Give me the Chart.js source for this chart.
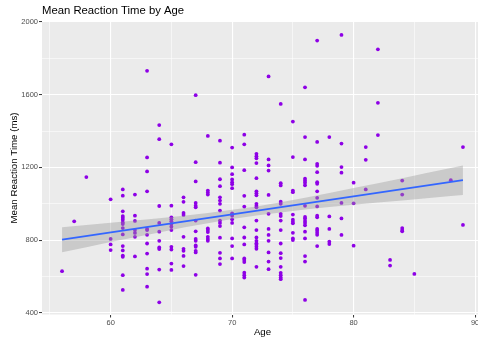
<!DOCTYPE html>
<html>
<head>
<meta charset="utf-8">
<script src="https://cdn.jsdelivr.net/npm/chart.js"></script>
<style>
  html, body { margin: 0; padding: 0; background: #ffffff; overflow: hidden; }
  #wrap { width: 478px; height: 341px; overflow: hidden; }
</style>
</head>
<body>
<div id="wrap"><canvas id="c" width="483" height="341"></canvas></div>
<script>
// ---- data ----
const chartTitle = "Mean Reaction Time by Age";
const xTitle = "Age";
const yTitle = "Mean Reaction Time (ms)";

// one entry per observation (age, mean reaction time in ms)
const ages = [
  56, 57, 58,
  60, 60, 60, 60,
  61, 61, 61, 61, 61, 61, 61, 61, 61, 61, 61, 61, 61, 61, 61, 61,
  62, 62, 62, 62, 62, 62, 62,
  63, 63, 63, 63, 63, 63, 63, 63, 63, 63, 63, 63,
  64, 64, 64, 64, 64, 64, 64, 64, 64, 64,
  65, 65, 65, 65, 65, 65, 65, 65, 65, 65, 65, 65,
  66, 66, 66, 66, 66, 66, 66, 66, 66,
  67, 67, 67, 67, 67, 67, 67, 67, 67, 67, 67, 67, 67, 67, 67,
  68, 68, 68, 68, 68, 68, 68, 68, 68, 68,
  69, 69, 69, 69, 69, 69, 69, 69, 69, 69, 69, 69, 69, 69, 69,
  70, 70, 70, 70, 70, 70, 70, 70, 70, 70, 70, 70, 70, 70,
  71, 71, 71, 71, 71, 71, 71, 71, 71, 71, 71, 71, 71, 71,
  72, 72, 72, 72, 72, 72, 72, 72, 72, 72, 72, 72, 72, 72, 72, 72, 72, 72, 72, 72,
  73, 73, 73, 73, 73, 73, 73, 73, 73, 73, 73, 73,
  74, 74, 74, 74, 74, 74, 74, 74, 74, 74, 74, 74, 74, 74, 74, 74, 74,
  75, 75, 75, 75, 75, 75, 75, 75, 75, 75, 75,
  76, 76, 76, 76, 76, 76, 76, 76, 76, 76, 76, 76, 76, 76, 76, 76, 76, 76,
  77, 77, 77, 77, 77, 77, 77, 77, 77, 77, 77, 77, 77, 77, 77, 77, 77,
  78, 78, 78, 78, 78,
  79, 79, 79, 79, 79, 79, 79,
  80, 80, 80,
  81, 81, 81,
  82, 82, 82,
  83, 83,
  84, 84, 84, 84, 84,
  85,
  88,
  89, 89
];
const reactionTimes = [
  630, 904, 1147,
  1025, 807, 777, 746,
  1079, 1045, 959, 933, 924, 913, 898, 889, 867, 832, 768, 744, 716, 709, 608, 527,
  1051, 935, 906, 856, 840, 819, 711,
  1731, 1255, 1178, 1069, 862, 856, 830, 782, 727, 644, 614, 545,
  1433, 1355, 988, 895, 847, 797, 760, 752, 639, 459,
  1327, 990, 926, 915, 904, 889, 874, 856, 764, 749, 672, 637,
  1036, 1011, 950, 939, 819, 753, 742, 714, 658,
  1597, 1229, 1123, 1005, 990, 981, 908, 849, 807, 797, 771, 764, 742, 733, 610,
  1373, 1073, 1062, 1051, 865, 856, 845, 819, 807, 797,
  1347, 1226, 1135, 1097, 1036, 1018, 1000, 963, 908, 895, 878, 814, 731, 700, 669,
  1309, 1200, 1163, 1134, 1119, 1108, 1086, 948, 935, 915, 895, 810, 768, 700,
  1380, 1327, 1185, 1044, 985, 871, 815, 777, 700, 691, 680, 622, 608, 595,
  1275, 1262, 1250, 1224, 1141, 1069, 1058, 1047, 1000, 989, 981, 908, 856, 815, 797, 784, 775, 764, 753, 654,
  1700, 1244, 1211, 1183, 1049, 945, 862, 829, 797, 733, 683, 641,
  1549, 1113, 1101, 1012, 1000, 945, 933, 908, 856, 782, 729, 702, 654, 621, 608, 595, 586,
  1452, 1257, 1073, 1064, 941, 913, 902, 893, 841, 810, 801,
  1640, 1367, 1244, 1138, 1127, 1116, 1102, 989, 928, 919, 906, 895, 882, 847, 810, 713, 683, 472,
  1897, 1340, 1220, 1209, 1174, 1119, 1110, 1069, 1033, 986, 935, 926, 862, 852, 841, 830, 768,
  1367, 931, 862, 792, 779,
  1928, 1331, 1202, 1171, 1005, 920, 829,
  1116, 1003, 770,
  1312, 1242, 1079,
  1849, 1555, 1378,
  692, 661,
  1128, 1051, 867, 856, 849,
  615,
  1130,
  1312, 884
];

// fitted regression line (end points)
const fitAges = [56, 89];
const fitValues = [803, 1130];

// confidence band around the fit
const bandAges = [56, 58, 60, 62, 64, 66, 68, 70, 72, 74, 76, 78, 80, 82, 84, 86, 88, 89];
const bandLow  = [734, 762, 790, 816, 843, 870, 894, 917, 936, 953, 969, 982, 995, 1007, 1019, 1031, 1043, 1049];
const bandHigh = [872, 884, 896, 908, 921, 934, 950, 967, 986, 1009, 1033, 1060, 1087, 1113, 1141, 1169, 1197, 1211];

// axis ticks
const xTickValues = [55, 60, 65, 70, 75, 80, 85, 90];
const xTickLabels = ["60", "70", "80", "90"];
const yTickValues = [400, 600, 800, 1000, 1200, 1400, 1600, 1800, 2000];
const yTickLabels = ["400", "800", "1200", "1600", "2000"];

// ---- build chart ----
const pts = ages.map((a, i) => ({ x: a, y: reactionTimes[i] }));
const fitPts = fitAges.map((a, i) => ({ x: a, y: fitValues[i] }));
const lowPts = bandAges.map((a, i) => ({ x: a, y: bandLow[i] }));
const highPts = bandAges.map((a, i) => ({ x: a, y: bandHigh[i] }));

const FONT = "'Liberation Sans', Arial, Helvetica, sans-serif";
const isMajorX = v => xTickLabels.includes(String(v));
const isMajorY = v => yTickLabels.includes(String(v));

const panelBg = {
  id: 'panelBg',
  beforeDraw(chart) {
    const { ctx, chartArea: a } = chart;
    ctx.save();
    ctx.fillStyle = '#EBEBEB';
    ctx.fillRect(a.left, a.top, a.right - a.left, a.bottom - a.top);
    ctx.restore();
  }
};

new Chart(document.getElementById('c'), {
  type: 'scatter',
  data: {
    datasets: [
      {
        label: 'points',
        data: pts,
        backgroundColor: '#8E00E6',
        borderWidth: 0,
        pointRadius: 1.9,
        pointHoverRadius: 1.9,
        order: 4
      },
      {
        type: 'line',
        label: 'low',
        data: lowPts,
        borderWidth: 0,
        borderColor: 'rgba(0,0,0,0)',
        pointRadius: 0,
        fill: false,
        tension: 0,
        order: 3
      },
      {
        type: 'line',
        label: 'high',
        data: highPts,
        borderWidth: 0,
        borderColor: 'rgba(0,0,0,0)',
        backgroundColor: 'rgba(153,153,153,0.4)',
        pointRadius: 0,
        fill: '-1',
        tension: 0,
        order: 2
      },
      {
        type: 'line',
        label: 'fit',
        data: fitPts,
        borderColor: '#3366FF',
        borderWidth: 1.7,
        pointRadius: 0,
        fill: false,
        order: 1
      }
    ]
  },
  options: {
    responsive: false,
    animation: false,
    events: [],
    layout: { autoPadding: false, padding: 0 },
    plugins: {
      legend: { display: false },
      tooltip: { enabled: false },
      title: {
        display: true,
        text: chartTitle,
        align: 'start',
        fullSize: false,
        color: '#000000',
        font: { family: FONT, size: 11.3, weight: 'normal' },
        padding: { top: 4.2, bottom: 3.7 }
      }
    },
    scales: {
      x: {
        type: 'linear',
        min: 54.35,
        max: 90.65,
        afterBuildTicks(scale) { scale.ticks = xTickValues.map(v => ({ value: v })); },
        afterFit(scale) {
          scale.height = 26.5;
          scale.paddingLeft = 0;
          scale.paddingRight = 0;
        },
        border: { display: false },
        grid: {
          color: '#FFFFFF',
          lineWidth: ctx => (ctx.tick && isMajorX(ctx.tick.value)) ? 1.1 : 0.55,
          tickColor: ctx => (ctx.tick && isMajorX(ctx.tick.value)) ? '#333333' : 'rgba(0,0,0,0)',
          tickLength: 3,
          tickWidth: 1,
          drawTicks: true
        },
        ticks: {
          autoSkip: false,
          maxRotation: 0,
          padding: 1,
          color: '#4D4D4D',
          font: { family: FONT, size: 7.5 },
          callback: v => isMajorX(v) ? String(v) : ''
        },
        title: {
          display: true,
          text: xTitle,
          color: '#000000',
          font: { family: FONT, size: 9.7 },
          padding: { top: 0, bottom: 2.6 }
        }
      },
      y: {
        type: 'linear',
        min: 392,
        max: 2002,
        afterBuildTicks(scale) { scale.ticks = yTickValues.map(v => ({ value: v })); },
        afterFit(scale) {
          scale.width = 42;
          scale.paddingTop = 0;
          scale.paddingBottom = 0;
        },
        border: { display: false },
        grid: {
          color: '#FFFFFF',
          lineWidth: ctx => (ctx.tick && isMajorY(ctx.tick.value)) ? 1.1 : 0.55,
          tickColor: ctx => (ctx.tick && isMajorY(ctx.tick.value)) ? '#333333' : 'rgba(0,0,0,0)',
          tickLength: 3,
          tickWidth: 1,
          drawTicks: true
        },
        ticks: {
          autoSkip: false,
          padding: 1,
          color: '#4D4D4D',
          font: { family: FONT, size: 7.5 },
          callback: v => isMajorY(v) ? String(v) : ''
        },
        title: {
          display: true,
          text: yTitle,
          color: '#000000',
          font: { family: FONT, size: 9.7 },
          padding: { top: 8.4, bottom: 0 }
        }
      }
    }
  },
  plugins: [panelBg]
});
</script>
</body>
</html>
